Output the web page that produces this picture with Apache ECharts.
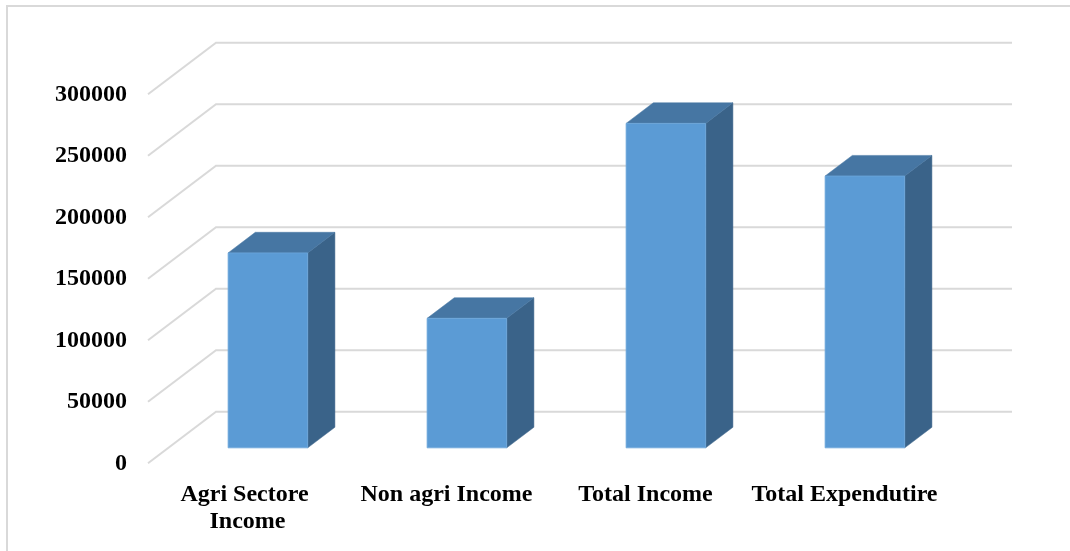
<!DOCTYPE html>
<html>
<head>
<meta charset="utf-8">
<script src="https://cdn.jsdelivr.net/npm/echarts@6/dist/echarts.min.js"></script>
<style>
html,body{margin:0;padding:0;background:#fff;}
#chart{width:1070px;height:551px;}
</style>
</head>
<body>
<div id="chart"></div>
<script>
// Data
const categories = ["Agri Sectore Income", "Non agri Income", "Total Income", "Total Expendutire"];
const values = [158500, 105300, 263800, 221000];
const yTicks = [0, 50000, 100000, 150000, 200000, 250000, 300000];

// 3D depth (pixels) of the floor/back wall
const DX = 68, DY = -51.5;
const FONT = "'Liberation Serif', 'Times New Roman', serif";

const chart = echarts.init(document.getElementById('chart'), null, {renderer: 'canvas'});

const option = {
  animation: false,
  backgroundColor: '#ffffff',
  graphic: [{
    type: 'rect',
    shape: {x: 7, y: 6, width: 1100, height: 600},
    style: {fill: 'none', stroke: '#d9d9d9', lineWidth: 2},
    z: 0
  }],
  grid: {left: 148, right: 126, top: 94.3, bottom: 87.7, containLabel: false, outerBoundsMode: 'none'},
  xAxis: {
    type: 'category',
    data: categories,
    axisLine: {show: false},
    axisTick: {show: false},
    splitLine: {show: false},
    axisLabel: {
      margin: 18,
      color: '#000',
      fontFamily: FONT,
      fontWeight: 'bold',
      fontSize: 24,
      lineHeight: 27,
      width: 198,
      overflow: 'break',
      interval: 0
    }
  },
  yAxis: {
    type: 'value',
    min: 0,
    max: 300000,
    interval: 50000,
    axisLine: {show: false},
    axisTick: {show: false},
    splitLine: {show: false},
    axisLabel: {
      margin: 21,
      color: '#000',
      fontFamily: FONT,
      fontWeight: 'bold',
      fontSize: 24,
      formatter: function (v) { return String(v); }
    }
  },
  series: [
    {
      type: 'custom',
      silent: true,
      z: 1,
      data: yTicks.map(v => [0, v]),
      renderItem: function (params, api) {
        const v = api.value(1);
        const p = api.coord([0, v]);
        const cs = params.coordSys;
        const y = p[1];
        const x0 = cs.x, x1 = cs.x + cs.width;
        return {
          type: 'polyline',
          shape: {points: [[x0, y], [x0 + DX, y + DY], [x1 + DX, y + DY]]},
          style: {stroke: '#d9d9d9', lineWidth: 2, fill: null}
        };
      }
    },
    {
      type: 'custom',
      z: 3,
      data: values.map((v, i) => [i, v]),
      renderItem: function (params, api) {
        const i = api.value(0), v = api.value(1);
        const base = api.coord([i, 0]);
        const top = api.coord([i, v]);
        const band = api.size([1, 0])[0];
        const w = band * 0.4;
        const xl = base[0] - w / 2, xr = base[0] + w / 2;
        const yb = base[1], yt = top[1];
        const f0 = DX * 0.3, f1 = DY * 0.3, b0 = DX * 0.7, b1 = DY * 0.7;
        return {
          type: 'group',
          children: [
            {
              type: 'polygon',
              shape: {points: [[xr + f0, yt + f1], [xr + b0, yt + b1], [xr + b0, yb + b1], [xr + f0, yb + f1]]},
              style: {fill: '#3A6389', stroke: '#3A6389', lineWidth: 0.5}
            },
            {
              type: 'polygon',
              shape: {points: [[xl + f0, yt + f1], [xr + f0, yt + f1], [xr + b0, yt + b1], [xl + b0, yt + b1]]},
              style: {fill: '#4676A3', stroke: '#4676A3', lineWidth: 0.5}
            },
            {
              type: 'rect',
              shape: {x: xl + f0, y: yt + f1, width: w, height: yb - yt},
              style: {fill: '#5B9BD5', stroke: '#6FA8DC', lineWidth: 0.8}
            }
          ]
        };
      }
    }
  ]
};
chart.setOption(option);
</script>
</body>
</html>
